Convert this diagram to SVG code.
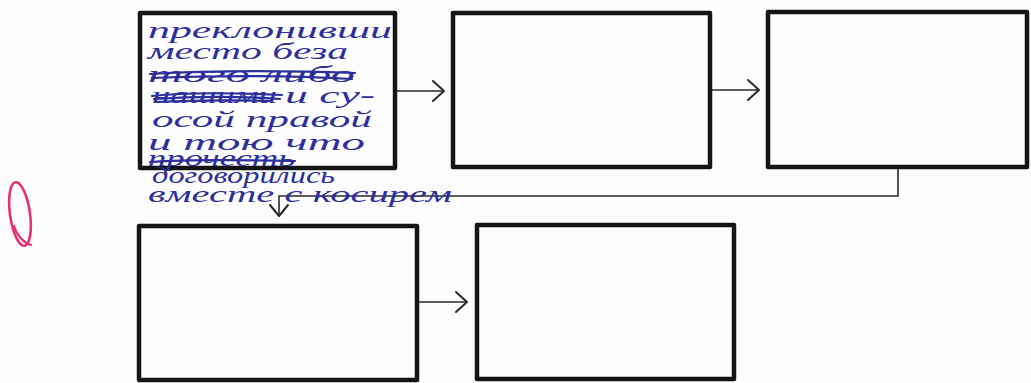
<svg xmlns="http://www.w3.org/2000/svg" width="1031" height="383" viewBox="0 0 1031 383">
<style>
.box{fill:#fefefe;stroke:#141414;stroke-width:4.5;stroke-linejoin:round}
.con{fill:none;stroke:#2a2a2a;stroke-width:1.6}
.head{fill:none;stroke:#2a2a2a;stroke-width:2;stroke-linecap:round;stroke-linejoin:round}
.hw{font-family:"Liberation Serif","DejaVu Serif",serif;font-style:italic;font-size:23px;fill:#2c2f9c}
.strike{fill:none;stroke:#2c2f9c;stroke-width:2.2;stroke-linecap:round}
</style>
<rect width="1031" height="383" fill="#fdfdfd"/>
<g id="connectors">
<path class="con" d="M395,91 H443"/>
<path class="head" d="M433,81 L444,91 L433,101"/>
<path class="con" d="M710,90 H758"/>
<path class="head" d="M748,80 L759,90 L748,100"/>
<path class="con" d="M898,167 V196 H279 V215"/>
<path class="head" d="M270,205 L279,216 L288,205"/>
<path class="con" d="M417,302 H466"/>
<path class="head" d="M456,292 L467,302 L456,312"/>
</g>
<g id="node1">
<rect class="box" x="140" y="13" width="255" height="155"/>
</g>
<g id="node2">
<rect class="box" x="453" y="13" width="257" height="154"/>
</g>
<g id="node3">
<rect class="box" x="768" y="12" width="259" height="155"/>
</g>
<g id="node4">
<rect class="box" x="139" y="226" width="278" height="154"/>
</g>
<g id="node5">
<rect class="box" x="477" y="225" width="257" height="154"/>
</g>
<g id="note">
<text class="hw" x="148" y="38" textLength="244" lengthAdjust="spacingAndGlyphs">преклонивши</text>
<text class="hw" x="148" y="59" textLength="200" lengthAdjust="spacingAndGlyphs">место беза</text>
<text class="hw" x="148" y="82" textLength="207" lengthAdjust="spacingAndGlyphs">того либо</text>
<path class="strike" d="M150,74 C220,70 300,71 355,73 M152,78 C230,75 300,76 352,79"/>
<text class="hw" x="152" y="103" textLength="125" lengthAdjust="spacingAndGlyphs">нашими</text>
<path class="strike" d="M152,96 C190,92 240,93 282,95 M154,99 C200,96 250,97 280,99 M156,102 C200,100 240,100 270,101"/>
<text class="hw" x="285" y="103" textLength="90" lengthAdjust="spacingAndGlyphs">и су-</text>
<text class="hw" x="152" y="127" textLength="220" lengthAdjust="spacingAndGlyphs">осой правой</text>
<text class="hw" x="148" y="150" textLength="217" lengthAdjust="spacingAndGlyphs">и тою что</text>
<text class="hw" x="148" y="166" textLength="147" lengthAdjust="spacingAndGlyphs" font-size="16">прочесть</text>
<path class="strike" d="M150,162 C190,159 250,160 295,161"/>
<text class="hw" x="152" y="183" textLength="183" lengthAdjust="spacingAndGlyphs" font-size="19">договорились</text>
<text class="hw" x="148" y="202" textLength="304" lengthAdjust="spacingAndGlyphs" font-size="21">вместе с косирем</text>
</g>
<g id="mark">
<ellipse cx="20" cy="214" rx="10" ry="32" transform="rotate(-8 20 214)" fill="none" stroke="#e5336b" stroke-width="2.6"/>
<path d="M14,226 C17,236 24,243 31,245" fill="none" stroke="#e5336b" stroke-width="2.2" stroke-linecap="round"/>
</g>
</svg>
